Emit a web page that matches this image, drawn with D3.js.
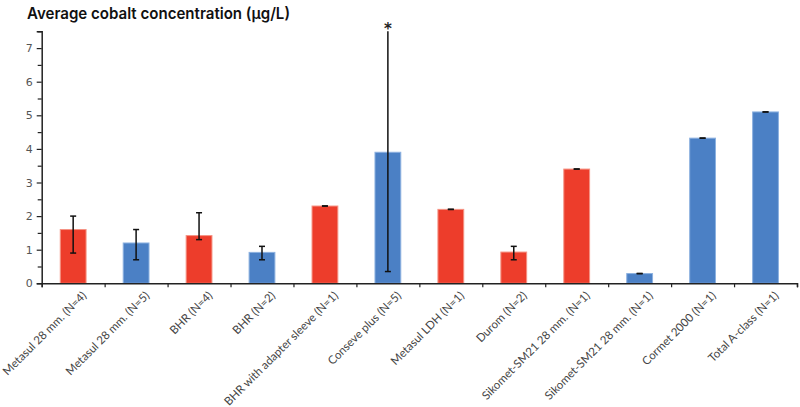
<!DOCTYPE html>
<html><head><meta charset="utf-8">
<script src="https://cdn.jsdelivr.net/npm/d3@7"></script>
<style>body{margin:0;background:#fff}svg{display:block}</style>
</head><body>
<svg id="chart" width="800" height="407"></svg>
<script>
const categories = ["Metasul 28 mm. (N=4)","Metasul 28 mm. (N=5)","BHR (N=4)","BHR (N=2)","BHR with adapter sleeve (N=1)","Conseve plus (N=5)","Metasul LDH (N=1)","Durom (N=2)","Sikomet-SM21 28 mm. (N=1)","Sikomet-SM21 28 mm. (N=1)","Cormet 2000 (N=1)","Total A-class (N=1)"];
const groups = ["red","blue","red","blue","red","blue","red","red","red","blue","blue","blue"];
const values = [1.6,1.2,1.42,0.92,2.3,3.9,2.2,0.93,3.4,0.29,4.32,5.1];
const errLow = [0.9,0.7,1.3,0.7,2.3,0.35,2.2,0.7,3.4,0.29,4.32,5.1];
const errHigh = [2.0,1.6,2.1,1.1,2.3,7.5,2.2,1.1,3.4,0.29,4.32,5.1];
const yTicks = [0,1,2,3,4,5,6,7];
const yMinorTicks = [0.5,1.5,2.5,3.5,4.5,5.5,6.5,7.5];
const title = "Average cobalt concentration (μg/L)";
const starIndex = 5;

const svg = d3.select("#chart");
const colors = {red:"#ED3D2B", blue:"#4B80C5"};
const strokes = {red:"#F59384", blue:"#8DB1E0"};
const x0 = 41.7, x1 = 797;
const x = d3.scaleBand().domain(d3.range(categories.length)).range([x0, x1]).paddingInner(0.59).paddingOuter(0.295);
const y = d3.scaleLinear().domain([0, 7.5]).range([283.3, 31.3]);

// title
svg.append("text").attr("x", 27).attr("y", 19)
  .attr("font-family", "Inter, 'Liberation Sans', sans-serif").attr("font-weight", 600)
  .attr("font-size", 16).attr("fill", "#111")
  .attr("textLength", 263).attr("lengthAdjust", "spacingAndGlyphs")
  .text(title);

// bars
svg.append("g").selectAll("rect").data(values).join("rect")
  .attr("x", (d,i) => x(i)).attr("width", x.bandwidth())
  .attr("y", d => y(d)).attr("height", d => y(0) - y(d))
  .attr("fill", (d,i) => colors[groups[i]])
  .attr("stroke", (d,i) => strokes[groups[i]]).attr("stroke-width", 1);

// error bars
const eg = svg.append("g").attr("stroke", "#111").attr("stroke-width", 1.5);
values.forEach((v,i) => {
  const cx = x(i) + x.bandwidth()/2;
  const cw = 3;
  eg.append("line").attr("x1", cx).attr("x2", cx).attr("y1", y(errLow[i])).attr("y2", y(errHigh[i]));
  if (i !== starIndex) eg.append("line").attr("x1", cx-cw).attr("x2", cx+cw).attr("y1", y(errHigh[i])).attr("y2", y(errHigh[i]));
  eg.append("line").attr("x1", cx-cw).attr("x2", cx+cw).attr("y1", y(errLow[i])).attr("y2", y(errLow[i]));
});
// star
svg.append("text").attr("x", x(starIndex) + x.bandwidth()/2).attr("y", y(errHigh[starIndex]) + 3)
  .attr("text-anchor", "middle").attr("font-family", "'DejaVu Sans', sans-serif")
  .attr("font-size", 15).attr("font-weight", 700).attr("fill", "#222").text("*");

// y axis
const yAxis = d3.axisLeft(y).tickValues(yTicks).tickSize(5).tickPadding(4).tickFormat(d3.format("d"));
const ya = svg.append("g").attr("transform", `translate(${x0},0)`).call(yAxis);
ya.select(".domain").attr("stroke", "#222").attr("stroke-width", 1.5);
ya.selectAll(".tick line").attr("stroke", "#222").attr("stroke-width", 1.2);
ya.selectAll(".tick text").attr("font-family", "'DejaVu Sans', sans-serif").attr("font-size", 11).attr("fill", "#555");
const yMinor = d3.axisLeft(y).tickValues(yMinorTicks).tickSize(4).tickFormat("");
const ym = svg.append("g").attr("transform", `translate(${x0},0)`).call(yMinor);
ym.select(".domain").remove();
ym.selectAll(".tick line").attr("stroke", "#222").attr("stroke-width", 1.2);

// x axis
const step = x.step();
const bounds = d3.range(categories.length + 1).map(i => x0 + i * step);
const xb = d3.scaleLinear().domain([x0, x1]).range([x0, x1]);
const xAxis = d3.axisBottom(xb).tickValues(bounds).tickSize(4).tickFormat("");
const xa = svg.append("g").attr("transform", `translate(0,${y(0)})`).call(xAxis);
xa.select(".domain").attr("stroke", "#222").attr("stroke-width", 1.5);
xa.selectAll(".tick line").attr("stroke", "#222").attr("stroke-width", 1.2);

// x labels
svg.append("g").selectAll("text").data(categories).join("text")
  .attr("transform", (d,i) => `translate(${x(i) + x.bandwidth()/2 + 14},${y(0) + 13}) rotate(-45)`)
  .attr("text-anchor", "end")
  .attr("font-family", "Lato, 'Open Sans', sans-serif").attr("font-size", 11.5).attr("fill", "#444")
  .text(d => d);
</script>
</body></html>
